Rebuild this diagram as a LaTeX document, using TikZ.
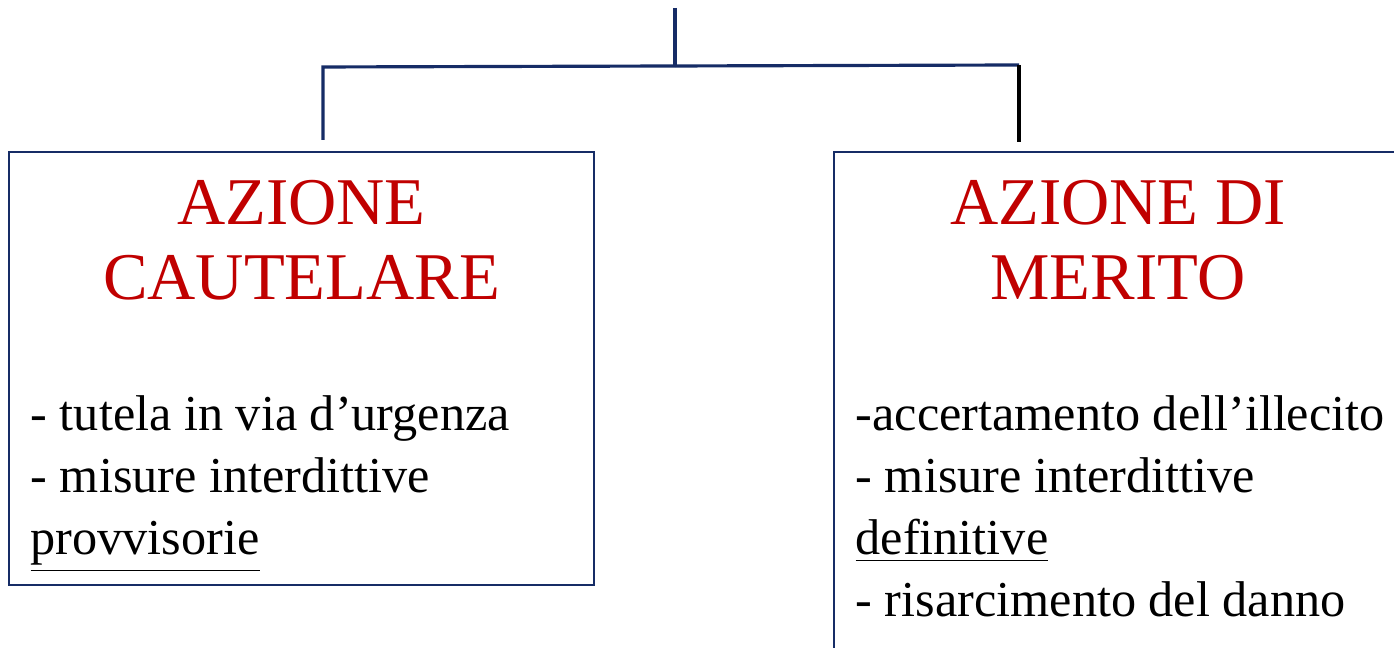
\documentclass[tikz,border=0pt]{standalone}
\usepackage{fontspec}
\setmainfont{Liberation Serif}
\usetikzlibrary{positioning}
\definecolor{navy}{RGB}{22,44,102}
\definecolor{titlered}{RGB}{192,0,0}

\begin{document}
\begin{tikzpicture}[
    box/.style={rectangle, draw=navy, line width=0.8pt, minimum width=5.85cm},
    title/.style={anchor=base, text=titlered, font=\fontsize{19}{23}\selectfont, inner sep=0pt},
    item/.style={anchor=base west, font=\fontsize{14.3}{17}\selectfont, inner sep=0pt},
    link/.style={draw=navy, line width=0.9pt},
    stub/.style={draw=black, line width=0.9pt}
]
\useasboundingbox (0,0) rectangle (13.94,-6.48);
\clip (0,0) rectangle (13.94,-6.48);
% Boxes
\node[box, minimum height=4.33cm] (cautelare) at (3.015,-3.685) {};
\node[box, minimum height=5.8cm] (merito) at (11.265,-4.42) {};
% Titles
\node[title] (t1a) at (3.015,-2.25) {AZIONE};
\node[title] (t1b) at (3.015,-3.00) {CAUTELARE};
\node[title] (t2a) at (11.18,-2.25) {AZIONE DI};
\node[title] (t2b) at (11.18,-3.00) {MERITO};
% Left list
\node[item] (c1) at (0.30,-4.31) {- tutela in via d’urgenza};
\node[item] (c2) at (0.30,-4.93) {- misure interdittive};
\node[item] (c3) at (0.30,-5.55) {\underline{provvisorie}};
% Right list
\node[item] (m1) at (8.55,-4.31) {-accertamento dell’illecito};
\node[item] (m2) at (8.55,-4.93) {- misure interdittive};
\node[item] (m3) at (8.55,-5.55) {\underline{definitive}};
\node[item] (m4) at (8.55,-6.17) {- risarcimento del danno};
% Connector points
\coordinate (top) at (6.75,-0.08);
\coordinate (fork) at (6.75,-0.66);
\coordinate (forkl) at (3.23,-0.67);
\coordinate (forkr) at (10.19,-0.65);
\coordinate (endl) at (3.23,-1.40);
\coordinate (endr) at (10.19,-1.42);
% Connectors
\draw[link] (top) -- (fork);
\draw[link] (fork) -- (forkl) -- (endl);
\draw[link] (fork) -- (forkr);
\draw[stub] (forkr) -- (endr);
\end{tikzpicture}
\end{document}
